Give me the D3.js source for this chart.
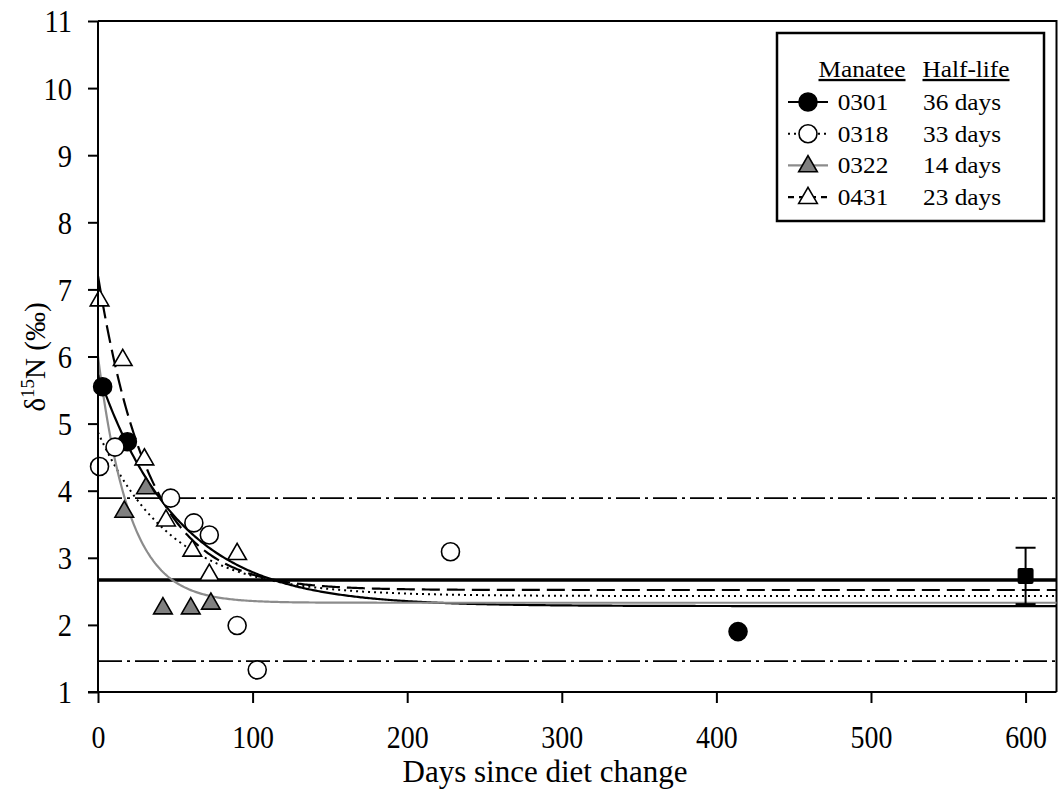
<!DOCTYPE html>
<html>
<head>
<meta charset="utf-8">
<script src="https://cdn.jsdelivr.net/npm/d3@7"></script>
<style>
  body { margin: 0; background: #fff; }
  text { font-family: "Liberation Serif", "Times New Roman", serif; fill: #000; }
</style>
</head>
<body>
<div id="chart"></div>
<script>
// observed points per manatee (days, d15N)
const days0301 = [3, 19, 414];
const vals0301 = [5.55, 4.73, 1.9];
const days0318 = [1, 11, 47, 62, 72, 90, 103, 228];
const vals0318 = [4.36, 4.65, 3.89, 3.52, 3.34, 1.99, 1.33, 3.09];
const days0322 = [17, 31, 42, 60, 73];
const vals0322 = [3.7, 4.05, 2.26, 2.26, 2.33];
const days0431 = [1, 16, 30, 44, 61, 72, 90];
const vals0431 = [6.85, 5.96, 4.48, 3.57, 3.12, 2.76, 3.07];

// fitted exponential curves: start value, asymptote, half-life
const manatees  = ['0301', '0318', '0322', '0431'];
const halfLives = [36, 33, 14, 23];
const startVals = [5.75, 4.87, 6.0, 7.2];
const asymVals  = [2.28, 2.43, 2.33, 2.52];

// reference band (mean and limits) and the long-term sample
const refMean = 2.67;
const refLimits = [3.89, 1.46];
const longDay = 600, longMean = 2.73, longLo = 2.31, longHi = 3.15;

const xTicks = [0, 100, 200, 300, 400, 500, 600];
const yTicks = [1, 2, 3, 4, 5, 6, 7, 8, 9, 10, 11];

const width = 1059, height = 792;
const svg = d3.select('#chart').append('svg')
  .attr('width', width).attr('height', height);

const x = d3.scaleLinear().domain([0, 620]).range([98, 1056.5]);
const y = d3.scaleLinear().domain([1, 11]).range([692, 21]);

// plot frame (top and right)
svg.append('path')
  .attr('d', `M${x(0)},${y(11)}H${x(620)}V${y(1)}`)
  .attr('fill', 'none').attr('stroke', '#000').attr('stroke-width', 2);

// reference lines
svg.append('line')
  .attr('x1', x(0)).attr('x2', x(620))
  .attr('y1', y(refMean)).attr('y2', y(refMean))
  .attr('stroke', '#000').attr('stroke-width', 3.5);
svg.selectAll('line.lim')
  .data(refLimits)
  .join('line')
    .attr('class', 'lim')
    .attr('x1', x(0)).attr('x2', x(620))
    .attr('y1', d => y(d)).attr('y2', d => y(d))
    .attr('stroke', '#000').attr('stroke-width', 1.6)
    .attr('stroke-dasharray', '24,5,3,5');

// curve styles
const styles = {
  '0301': { stroke: '#000', dash: null, w: 2.2 },
  '0318': { stroke: '#000', dash: '2,4', w: 2 },
  '0322': { stroke: '#8c8c8c', dash: null, w: 2.2 },
  '0431': { stroke: '#000', dash: '18,7', w: 2.2 }
};

const line = d3.line().x(d => x(d[0])).y(d => y(d[1]));
const dayGrid = d3.range(0, 620.5, 1);

manatees.forEach((m, i) => {
  const k = Math.LN2 / halfLives[i];
  const pts = dayGrid.map(t => [t, asymVals[i] + (startVals[i] - asymVals[i]) * Math.exp(-k * t)]);
  const s = styles[m];
  svg.append('path')
    .attr('d', line(pts))
    .attr('fill', 'none')
    .attr('stroke', s.stroke)
    .attr('stroke-width', s.w)
    .attr('stroke-dasharray', s.dash);
});

// long-term sample with error bar
const eb = svg.append('g');
eb.append('line')
  .attr('x1', x(longDay)).attr('x2', x(longDay))
  .attr('y1', y(longHi)).attr('y2', y(longLo))
  .attr('stroke', '#000').attr('stroke-width', 2);
[longHi, longLo].forEach(v => {
  eb.append('line')
    .attr('x1', x(longDay) - 10).attr('x2', x(longDay) + 10)
    .attr('y1', y(v)).attr('y2', y(v))
    .attr('stroke', '#000').attr('stroke-width', 2);
});
eb.append('rect')
  .attr('x', x(longDay) - 8).attr('y', y(longMean) - 8)
  .attr('width', 16).attr('height', 16).attr('rx', 2)
  .attr('fill', '#000');

// markers
const triPath = d3.symbol().type(d3.symbolTriangle).size(150)();
const markerStyles = {
  '0301': { shape: 'circle', fill: '#000' },
  '0318': { shape: 'circle', fill: '#fff' },
  '0322': { shape: 'tri', fill: '#808080' },
  '0431': { shape: 'tri', fill: '#fff' }
};

function drawMarker(g, m, cx, cy) {
  const ms = markerStyles[m];
  if (ms.shape === 'circle') {
    g.append('circle')
      .attr('cx', cx).attr('cy', cy).attr('r', 9)
      .attr('fill', ms.fill).attr('stroke', '#000').attr('stroke-width', 1.6);
  } else {
    g.append('path')
      .attr('d', triPath)
      .attr('transform', `translate(${cx},${cy + 1})`)
      .attr('fill', ms.fill).attr('stroke', '#000').attr('stroke-width', 1.6);
  }
}

const series = [
  ['0301', days0301, vals0301],
  ['0318', days0318, vals0318],
  ['0322', days0322, vals0322],
  ['0431', days0431, vals0431]
];
const pg = svg.append('g');
series.forEach(([m, ds, vs]) => {
  ds.forEach((d, i) => drawMarker(pg, m, x(d), y(vs[i])));
});

// axes (labels slightly condensed like the original)
const xAxis = svg.append('g')
  .attr('transform', `translate(0,${y(1)})`)
  .call(d3.axisBottom(x).tickValues(xTicks).tickSize(11).tickPadding(0));
const yAxis = svg.append('g')
  .attr('transform', `translate(${x(0)},0)`)
  .call(d3.axisLeft(y).tickValues(yTicks).tickSize(10).tickPadding(0));

[xAxis, yAxis].forEach(a => {
  a.select('.domain').remove();
  a.selectAll('.tick line').attr('stroke-width', 2);
  a.selectAll('.tick text')
    .style('font-family', '"Liberation Serif", serif')
    .style('font-size', '31px')
    .attr('fill', '#000');
});
xAxis.selectAll('.tick text')
  .attr('y', null).attr('dy', null)
  .attr('transform', 'translate(0,56) scale(0.9,1)');
yAxis.selectAll('.tick text')
  .attr('x', null).attr('dy', null)
  .attr('dominant-baseline', 'central')
  .attr('transform', 'translate(-26,0) scale(0.92,1)');

// axis lines drawn plainly
svg.append('line')
  .attr('x1', x(0)).attr('x2', x(0)).attr('y1', y(11)).attr('y2', y(1))
  .attr('stroke', '#000').attr('stroke-width', 2);
svg.append('line')
  .attr('x1', x(0) - 10).attr('x2', x(620)).attr('y1', y(1)).attr('y2', y(1))
  .attr('stroke', '#000').attr('stroke-width', 2);

// axis titles
svg.append('text')
  .attr('x', 545).attr('y', 782)
  .attr('text-anchor', 'middle')
  .attr('fill', '#000')
  .style('font-size', '31px')
  .text('Days since diet change');

const yl = svg.append('text')
  .attr('transform', 'translate(45,357) rotate(-90)')
  .attr('text-anchor', 'middle')
  .attr('fill', '#000')
  .style('font-size', '29px');
yl.append('tspan').text('δ');
yl.append('tspan').attr('dy', -11).style('font-size', '19px').text('15');
yl.append('tspan').attr('dy', 11).text('N (‰)');

// legend
const lg = svg.append('g');
lg.append('rect')
  .attr('x', 777).attr('y', 33).attr('width', 267).attr('height', 188)
  .attr('fill', '#fff').attr('stroke', '#000').attr('stroke-width', 2.5);

function legendText(t, cx, by, underline) {
  lg.append('text')
    .attr('transform', `translate(${cx},${by}) scale(1.1,1)`)
    .attr('text-anchor', 'middle')
    .attr('fill', '#000')
    .style('font-size', '23px')
    .attr('text-decoration', underline ? 'underline' : null)
    .text(t);
}

legendText('Manatee', 862, 77, true);
legendText('Half-life', 966, 77, true);

manatees.forEach((m, i) => {
  const by = 110 + i * 31.7;
  const cy = by - 8;
  const s = styles[m];
  lg.append('line')
    .attr('x1', 788).attr('x2', 828).attr('y1', cy).attr('y2', cy)
    .attr('stroke', s.stroke).attr('stroke-width', s.w)
    .attr('stroke-dasharray', m === '0431' ? '6,5' : s.dash);
  drawMarker(lg, m, 808, cy);
  legendText(m, 863, by, false);
  legendText(`${halfLives[i]} days`, 962, by, false);
});
</script>
</body>
</html>
